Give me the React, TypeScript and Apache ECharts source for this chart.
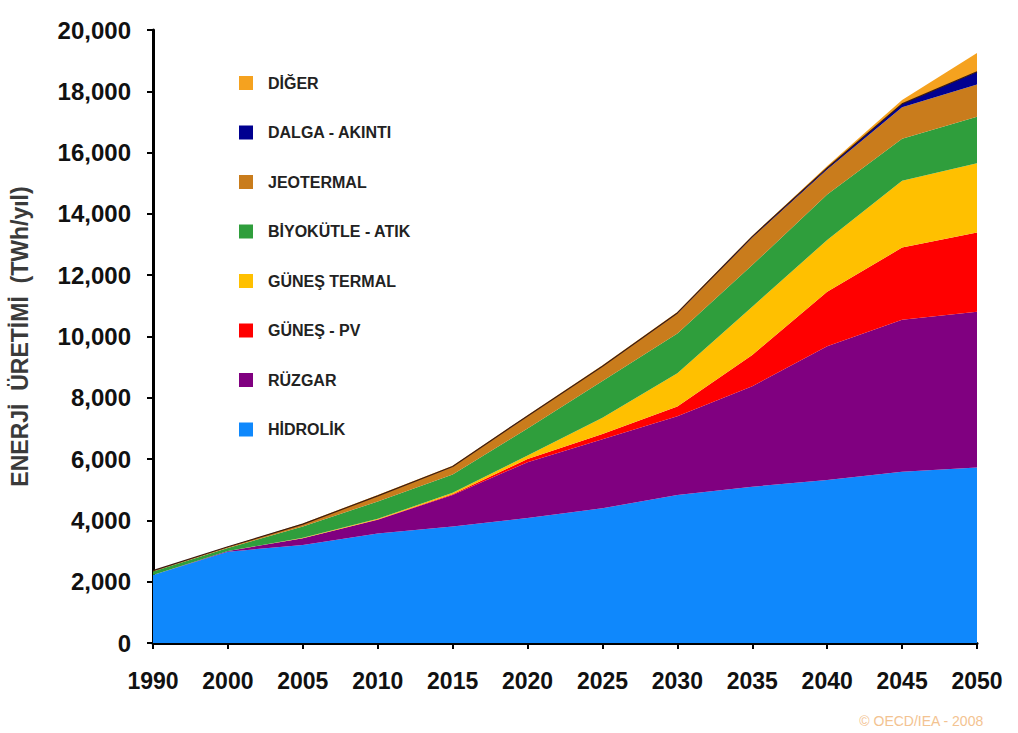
import React, { useEffect, useRef } from "react";
import * as echarts from "echarts";

const years = ["1990", "2000", "2005", "2010", "2015", "2020", "2025", "2030", "2035", "2040", "2045", "2050"];

const hidrolik = [2220, 2980, 3200, 3570, 3800, 4080, 4400, 4830, 5100, 5320, 5590, 5730];
const ruzgar = [0, 20, 220, 450, 1030, 1820, 2250, 2570, 3280, 4360, 4960, 5080];
const gunesPV = [0, 0, 0, 10, 20, 100, 170, 320, 1020, 1780, 2350, 2580];
const gunesTermal = [0, 0, 10, 20, 50, 120, 530, 1080, 1570, 1690, 2180, 2260];
const biyokutle = [110, 100, 370, 570, 600, 880, 1200, 1300, 1360, 1480, 1370, 1520];
const jeotermal = [30, 40, 80, 180, 250, 400, 470, 650, 900, 820, 1030, 1050];
const dalga = [0, 0, 0, 0, 10, 10, 10, 20, 30, 50, 110, 420];
const diger = [0, 0, 20, 30, 20, 20, 30, 30, 30, 60, 130, 610];

const seriesNames = ["HİDROLİK", "RÜZGAR", "GÜNEŞ - PV", "GÜNEŞ TERMAL", "BİYOKÜTLE - ATIK", "JEOTERMAL", "DALGA - AKINTI", "DİĞER"];
const seriesData = [hidrolik, ruzgar, gunesPV, gunesTermal, biyokutle, jeotermal, dalga, diger];
const seriesColors = ["#0f88fc", "#800080", "#ff0000", "#ffc000", "#2f9e3c", "#c97c1c", "#000090", "#f5a21f"];

const yTicks = { min: 0, max: 20000, interval: 2000 };

const FONT = "'Liberation Sans', Arial, sans-serif";

export default function App() {
  const ref = useRef<HTMLDivElement>(null);
  useEffect(() => {
    if (!ref.current) return;
    const chart = echarts.init(ref.current, null, { renderer: "svg" });
    chart.setOption({
      animation: false,
      backgroundColor: "#ffffff",
      grid: { left: 153, right: 41, top: 30, bottom: 90, containLabel: false },
      legend: {
        orient: "vertical",
        left: 239,
        top: 75,
        padding: 0,
        itemWidth: 14,
        itemHeight: 14,
        itemGap: 33.5,
        icon: "rect",
        data: seriesNames.slice().reverse(),
        textStyle: { fontFamily: FONT, fontWeight: "bold", fontSize: 16, color: "#222", padding: [0, 0, 0, 10] },
        selectedMode: false,
      },
      xAxis: {
        type: "category",
        boundaryGap: false,
        data: years,
        axisLine: { lineStyle: { color: "#000", width: 3 } },
        axisTick: { show: true, length: 6, lineStyle: { color: "#000", width: 2 } },
        axisLabel: { fontFamily: FONT, fontWeight: "bold", fontSize: 23, color: "#111", margin: 26 },
        splitLine: { show: false },
      },
      yAxis: {
        type: "value",
        min: yTicks.min,
        max: yTicks.max,
        interval: yTicks.interval,
        name: "ENERJİ  ÜRETİMİ  (TWh/yıl)",
        nameLocation: "middle",
        nameGap: 122,
        nameRotate: 90,
        nameTextStyle: { fontFamily: FONT, fontWeight: "bold", fontSize: 23, color: "#3a3a3a" },
        axisLine: { show: true, lineStyle: { color: "#000", width: 3 } },
        axisTick: { show: true, length: 6, lineStyle: { color: "#000", width: 2 } },
        axisLabel: {
          fontFamily: FONT,
          fontWeight: "bold",
          fontSize: 24,
          color: "#111",
          margin: 22,
          formatter: (v: number) => v.toLocaleString("en-US"),
        },
        splitLine: { show: false },
      },
      series: seriesNames.map((name, i) => ({
        name,
        type: "line",
        stack: "total",
        data: seriesData[i],
        symbol: "none",
        smooth: false,
        itemStyle: { color: seriesColors[i] },
        lineStyle: i === 6 ? { width: 1.2, color: "#3a1a10" } : { width: 0 },
        areaStyle: { color: seriesColors[i], opacity: 1 },
        z: 2,
      })),
      graphic: [
        {
          type: "text",
          right: 34,
          top: 714,
          style: { text: "© OECD/IEA - 2008", fontFamily: FONT, fontSize: 14, fill: "#f3c391" },
        },
      ],
    });
    return () => chart.dispose();
  }, []);
  return <div ref={ref} style={{ position: "fixed", left: 0, top: 0, width: 1018, height: 733 }} />;
}
